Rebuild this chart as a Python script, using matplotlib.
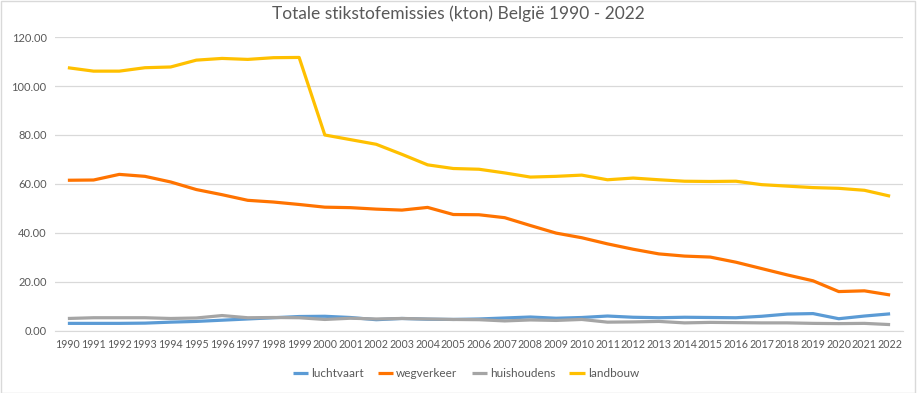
import matplotlib.pyplot as plt
from matplotlib.patches import Rectangle

years = list(range(1990, 2023))

luchtvaart = [3.0, 3.0, 3.0, 3.1, 3.5, 3.8, 4.3, 4.8, 5.3, 5.8, 5.9, 5.4, 4.5, 5.0, 4.7,
              4.6, 4.8, 5.2, 5.6, 5.1, 5.4, 6.0, 5.5, 5.3, 5.5, 5.4, 5.3, 5.9, 6.8, 7.0,
              4.9, 6.0, 6.9]
wegverkeer = [61.5, 61.6, 63.9, 63.1, 60.8, 57.7, 55.6, 53.3, 52.6, 51.6, 50.5, 50.3, 49.7,
              49.3, 50.4, 47.5, 47.4, 46.2, 43.0, 39.9, 38.0, 35.5, 33.3, 31.4, 30.5, 30.1,
              28.0, 25.4, 22.8, 20.4, 16.0, 16.3, 14.6]
huishoudens = [5.0, 5.3, 5.3, 5.3, 5.0, 5.2, 6.2, 5.3, 5.4, 5.3, 4.6, 5.1, 4.8, 5.0, 4.8,
               4.6, 4.5, 4.0, 4.4, 4.2, 4.6, 3.5, 3.6, 3.8, 3.2, 3.4, 3.3, 3.2, 3.2, 3.0,
               2.9, 3.0, 2.5]
landbouw = [107.5, 106.1, 106.1, 107.5, 107.8, 110.6, 111.3, 110.9, 111.6, 111.7, 80.0,
            78.1, 76.2, 72.1, 67.8, 66.3, 66.0, 64.5, 62.8, 63.1, 63.6, 61.7, 62.4, 61.7,
            61.1, 61.0, 61.1, 59.7, 59.1, 58.5, 58.2, 57.4, 55.0]

series = [
    ("luchtvaart", luchtvaart, "#5B9BD5"),
    ("wegverkeer", wegverkeer, "#FF7300"),
    ("huishoudens", huishoudens, "#A5A5A5"),
    ("landbouw", landbouw, "#FFC000"),
]

plt.rcParams["font.family"] = ["Lato", "DejaVu Sans"]
txt = "#595959"

fig = plt.figure(figsize=(9.17, 3.93), dpi=100)
fig.patches.append(Rectangle((0.001, 0.001), 0.997, 0.997, transform=fig.transFigure,
                             fill=False, edgecolor="#D9D9D9", linewidth=1))
ax = fig.add_axes([0.06, 0.1585, 0.9247, 0.747])

x = range(len(years))
for name, vals, col in series:
    ax.plot(x, vals, color=col, linewidth=2.3, label=name, solid_capstyle="butt")

ax.set_xlim(-0.5, len(years) - 0.5)
ax.set_ylim(0, 120)
ax.set_yticks(range(0, 121, 20))
ax.set_yticklabels([f"{v:.2f}" for v in range(0, 121, 20)], color=txt, fontsize=8)
ax.set_xticks(list(x))
ax.set_xticklabels([str(y) for y in years], color=txt, fontsize=7.7)
ax.tick_params(length=0, pad=6)
ax.grid(axis="y", color="#D9D9D9", linewidth=0.9)
ax.set_axisbelow(True)
for s in ["top", "right", "left"]:
    ax.spines[s].set_visible(False)
ax.spines["bottom"].set_color("#D9D9D9")

fig.text(0.5, 0.965, "Totale stikstofemissies (kton) België 1990 - 2022",
         ha="center", va="center", fontsize=12.5, color=txt)
fig.legend(loc="center", bbox_to_anchor=(0.508, 0.05), ncol=4, frameon=False,
           fontsize=8.5, handlelength=1.3, handletextpad=0.25, columnspacing=1.2,
           labelcolor=txt)

fig.savefig("out.png", dpi=100)
